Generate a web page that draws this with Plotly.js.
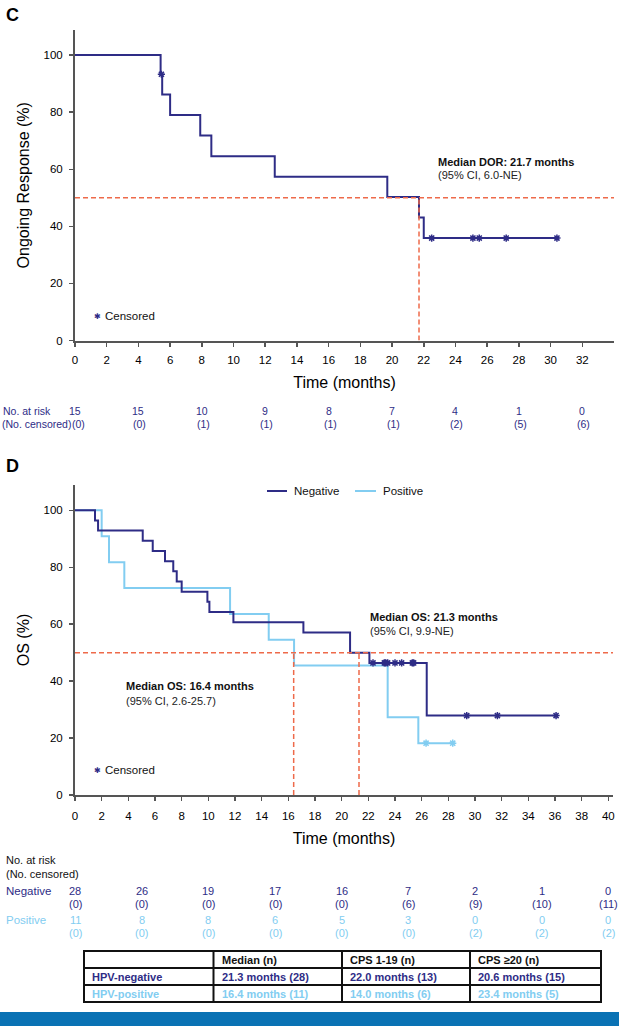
<!DOCTYPE html>
<html>
<head>
<meta charset="utf-8">
<script src="https://cdn.plot.ly/plotly-3.0.1.min.js"></script>
<style>html,body{margin:0;padding:0;background:#fff;}#chart{width:619px;height:1026px;}</style>
</head>
<body>
<div id="chart"></div>
<script>
// ---------- DATA ----------
// Panel C: duration of response
const dorTime = [0, 5.4, 5.5, 6.0, 7.9, 8.6, 12.6, 19.7, 21.7, 22.0, 30.4];
const dorSurv = [100, 93.3, 86.2, 79.0, 71.8, 64.6, 57.4, 50.3, 43.1, 35.9, 35.9];
const dorCensTime = [5.45, 22.5, 25.1, 25.5, 27.2, 30.4];
const dorCensSurv = [93.3, 35.9, 35.9, 35.9, 35.9, 35.9];
const dorMedian = 21.7;
const riskTimesC = [0, 4, 8, 12, 16, 20, 24, 28, 32];
const atRiskC = [15, 15, 10, 9, 8, 7, 4, 1, 0];
const censoredC = [0, 0, 1, 1, 1, 1, 2, 5, 6];

// Panel D: overall survival by HPV status
const negTime = [0, 1.5, 1.73, 5.08, 5.83, 6.75, 7.37, 7.63, 8.0, 9.93, 10.08, 11.88, 17.13, 20.63, 22.08, 26.38, 36.08];
const negSurv = [100, 96.4, 92.9, 89.3, 85.7, 82.1, 78.6, 75.0, 71.4, 67.9, 64.3, 60.7, 57.1, 50.0, 46.4, 27.9, 27.9];
const negCensTime = [22.35, 23.2, 23.3, 23.45, 24.0, 24.5, 25.3, 25.4, 29.38, 31.68, 36.08];
const negCensSurv = [46.4, 46.4, 46.4, 46.4, 46.4, 46.4, 46.4, 46.4, 27.9, 27.9, 27.9];
const posTime = [0, 2.0, 2.55, 3.7, 11.63, 14.53, 16.43, 23.45, 25.75, 28.33];
const posSurv = [100, 90.9, 81.8, 72.7, 63.6, 54.5, 45.5, 27.3, 18.2, 18.2];
const posCensTime = [26.33, 28.33];
const posCensSurv = [18.2, 18.2];
const medianNeg = 21.3;
const medianPos = 16.4;
const medianLevel = 50;
const riskTimesD = [0, 5, 10, 15, 20, 25, 30, 35, 40];
const atRiskNeg = [28, 26, 19, 17, 16, 7, 2, 1, 0];
const censNeg = [0, 0, 0, 0, 0, 6, 9, 10, 11];
const atRiskPos = [11, 8, 8, 6, 5, 3, 0, 0, 0];
const censPos = [0, 0, 0, 0, 0, 0, 2, 2, 2];

const xTicksC = [0,2,4,6,8,10,12,14,16,18,20,22,24,26,28,30,32];
const xTicksD = [0,2,4,6,8,10,12,14,16,18,20,22,24,26,28,30,32,34,36,38,40];
const yTicks = [0,20,40,60,80,100];

const tableHeader = ['', 'Median (n)', 'CPS 1-19 (n)', 'CPS \u226520 (n)'];
const tableNeg = ['HPV-negative', '21.3 months (28)', '22.0 months (13)', '20.6 months (15)'];
const tablePos = ['HPV-positive', '16.4 months (11)', '14.0 months (6)', '23.4 months (5)'];

// ---------- STYLE ----------
const W = 619, H = 1026;
const NAVY = '#2e2c86', LIGHT = '#82cdf1', ORANGE = '#ee6a4a', AXIS = '#555555';
const FONT = 'Liberation Sans, Arial, Helvetica, sans-serif';
const px = x => x / W;
const py = y => 1 - y / H;

function censMarker(color) {
  return {symbol: 'asterisk-open', size: 6, color: color, line: {color: color, width: 1.5}};
}

const traces = [
  {x: dorTime, y: dorSurv, xaxis: 'x', yaxis: 'y', mode: 'lines', line: {shape: 'hv', color: NAVY, width: 2}, hoverinfo: 'skip'},
  {x: dorCensTime, y: dorCensSurv, xaxis: 'x', yaxis: 'y', mode: 'markers', marker: censMarker(NAVY), hoverinfo: 'skip'},
  {x: posTime, y: posSurv, xaxis: 'x2', yaxis: 'y2', mode: 'lines', line: {shape: 'hv', color: LIGHT, width: 2}, hoverinfo: 'skip'},
  {x: negTime, y: negSurv, xaxis: 'x2', yaxis: 'y2', mode: 'lines', line: {shape: 'hv', color: NAVY, width: 2}, hoverinfo: 'skip'},
  {x: posCensTime, y: posCensSurv, xaxis: 'x2', yaxis: 'y2', mode: 'markers', marker: censMarker(LIGHT), hoverinfo: 'skip'},
  {x: negCensTime, y: negCensSurv, xaxis: 'x2', yaxis: 'y2', mode: 'markers', marker: censMarker(NAVY), hoverinfo: 'skip'}
];

const axisCommon = {
  showline: true, linecolor: AXIS, linewidth: 2, ticks: 'outside', ticklen: 4, tickwidth: 1.5,
  tickcolor: AXIS, showgrid: false, zeroline: false, fixedrange: true,
  tickfont: {family: FONT, size: 11.5, color: '#000'}
};

const shapes = [];
const dashLine = {color: ORANGE, width: 1.5, dash: '5px,3px'};
// Panel C median lines
shapes.push({type: 'line', xref: 'x', yref: 'y', x0: 0, x1: 34, y0: medianLevel, y1: medianLevel, line: dashLine});
shapes.push({type: 'line', xref: 'x', yref: 'y', x0: dorMedian, x1: dorMedian, y0: 0, y1: medianLevel, line: dashLine});
// Panel D median lines
shapes.push({type: 'line', xref: 'x2', yref: 'y2', x0: 0, x1: 40.35, y0: medianLevel, y1: medianLevel, line: dashLine});
shapes.push({type: 'line', xref: 'x2', yref: 'y2', x0: medianPos, x1: medianPos, y0: 0, y1: medianLevel, line: dashLine});
shapes.push({type: 'line', xref: 'x2', yref: 'y2', x0: medianNeg, x1: medianNeg, y0: 0, y1: medianLevel, line: dashLine});
// Legend lines (panel D)
shapes.push({type: 'line', xref: 'paper', yref: 'paper', x0: px(267), x1: px(287), y0: py(491), y1: py(491), line: {color: NAVY, width: 2}});
shapes.push({type: 'line', xref: 'paper', yref: 'paper', x0: px(355), x1: px(376), y0: py(491), y1: py(491), line: {color: LIGHT, width: 2}});
// Summary table grid
const tLeft = 84, tRight = 601, tTop = 951, tBot = 1002;
const colX = [84, 213.5, 342, 470];
const rowLines = [968, 985];
shapes.push({type: 'rect', xref: 'paper', yref: 'paper', x0: px(tLeft), x1: px(tRight), y0: py(tBot), y1: py(tTop), line: {color: '#111', width: 2}});
colX.slice(1).forEach(cx => shapes.push({type: 'line', xref: 'paper', yref: 'paper', x0: px(cx), x1: px(cx), y0: py(tBot), y1: py(tTop), line: {color: '#111', width: 2}}));
rowLines.forEach(ry => shapes.push({type: 'line', xref: 'paper', yref: 'paper', x0: px(tLeft), x1: px(tRight), y0: py(ry), y1: py(ry), line: {color: '#111', width: 2}}));
// Bottom blue band
shapes.push({type: 'rect', xref: 'paper', yref: 'paper', x0: 0, x1: 1, y0: 0, y1: py(1012), fillcolor: '#0a72b4', line: {width: 0}});

const ann = [];
function txt(text, x, y, opts) {
  ann.push(Object.assign({text: text, x: x, y: y, xref: 'paper', yref: 'paper', showarrow: false,
    xanchor: 'left', yanchor: 'middle', font: {family: FONT, size: 11, color: '#000'}}, opts || {}));
}
// panel letters
txt('<b>C</b>', px(4), py(15), {font: {family: FONT, size: 18, color: '#000'}});
txt('<b>D</b>', px(4), py(466), {font: {family: FONT, size: 18, color: '#000'}});
// Panel C median text
txt('<b>Median DOR: 21.7 months</b>', px(436), py(161.5), {font: {family: FONT, size: 11, color: '#111'}});
txt('(95% CI, 6.0-NE)', px(436), py(175.5), {font: {family: FONT, size: 11, color: '#222'}});
// Censored legends
txt('\u2731', px(92), py(316), {font: {family: 'DejaVu Sans', size: 8, color: NAVY}});
txt('Censored', px(103), py(316), {font: {family: FONT, size: 11.5, color: '#111'}});
txt('\u2731', px(92), py(770), {font: {family: 'DejaVu Sans', size: 8, color: NAVY}});
txt('Censored', px(103), py(770), {font: {family: FONT, size: 11.5, color: '#111'}});
// Panel D median text
txt('<b>Median OS: 21.3 months</b>', px(368), py(616.5), {font: {family: FONT, size: 11, color: '#111'}});
txt('(95% CI, 9.9-NE)', px(368), py(631), {font: {family: FONT, size: 11, color: '#222'}});
txt('<b>Median OS: 16.4 months</b>', px(124), py(686), {font: {family: FONT, size: 11, color: '#111'}});
txt('(95% CI, 2.6-25.7)', px(124), py(701), {font: {family: FONT, size: 11, color: '#222'}});
// Legend text
txt('Negative', px(292), py(491), {font: {family: FONT, size: 11.5, color: '#111'}});
txt('Positive', px(381), py(491), {font: {family: FONT, size: 11.5, color: '#111'}});

// Risk table panel C
txt('No. at risk', px(1), py(410.5), {font: {family: FONT, size: 10.5, color: NAVY}});
txt('(No. censored)', px(0), py(424), {font: {family: FONT, size: 10.5, color: NAVY}});
riskTimesC.forEach((t, i) => {
  ann.push({text: String(atRiskC[i]), x: t, xref: 'x', y: py(410.5), yref: 'paper', showarrow: false,
    xanchor: 'center', yanchor: 'middle', font: {family: FONT, size: 10.5, color: NAVY}});
  ann.push({text: '(' + censoredC[i] + ')', x: t, xref: 'x', y: py(424), yref: 'paper', showarrow: false,
    xanchor: 'left', yanchor: 'middle', xshift: t === 0 ? -5 : -7,
    font: {family: FONT, size: 10.5, color: NAVY}});
});
// Risk table panel D
txt('No. at risk', px(4), py(860), {font: {family: FONT, size: 11, color: '#111'}});
txt('(No. censored)', px(4), py(873.5), {font: {family: FONT, size: 11, color: '#111'}});
txt('Negative', px(4), py(890.5), {font: {family: FONT, size: 11.5, color: NAVY}});
txt('Positive', px(4), py(919.5), {font: {family: FONT, size: 11.5, color: LIGHT}});
riskTimesD.forEach((t, i) => {
  const rows = [[String(atRiskNeg[i]), 890.5, NAVY], ['(' + censNeg[i] + ')', 904, NAVY],
                [String(atRiskPos[i]), 919.5, LIGHT], ['(' + censPos[i] + ')', 933, LIGHT]];
  rows.forEach(r => ann.push({text: r[0], x: t, xref: 'x2', y: py(r[1]), yref: 'paper', showarrow: false,
    xanchor: 'center', yanchor: 'middle', font: {family: FONT, size: 11, color: r[2]}}));
});
// Summary table text
const rowY = [959.5, 976.5, 993.5];
const rowColor = ['#111', NAVY, LIGHT];
[tableHeader, tableNeg, tablePos].forEach((row, r) => {
  row.forEach((cell, c) => {
    if (!cell) return;
    txt('<b>' + cell + '</b>', px(colX[c] + 6), py(rowY[r]), {font: {family: FONT, size: 11, color: rowColor[r]}});
  });
});

const layout = {
  width: W, height: H, autosize: false,
  margin: {l: 0, r: 0, t: 0, b: 0},
  paper_bgcolor: '#fff', plot_bgcolor: '#fff',
  showlegend: false,
  xaxis: Object.assign({}, axisCommon, {domain: [px(75), px(614)], range: [0, 34], anchor: 'y',
    tickvals: xTicksC, ticklabelstandoff: 4,
    title: {text: 'Time (months)', font: {family: FONT, size: 16, color: '#000'}, standoff: 12}}),
  yaxis: Object.assign({}, axisCommon, {domain: [py(340.5), py(30)], range: [0, 108.8], anchor: 'x',
    tickvals: yTicks, ticklabelstandoff: 4,
    title: {text: 'Ongoing Response (%)', font: {family: FONT, size: 16, color: '#000'}, standoff: 10}}),
  xaxis2: Object.assign({}, axisCommon, {domain: [px(75), px(613)], range: [0, 40.35], anchor: 'y2',
    tickvals: xTicksD, ticklabelstandoff: 5,
    title: {text: 'Time (months)', font: {family: FONT, size: 16, color: '#000'}, standoff: 12}}),
  yaxis2: Object.assign({}, axisCommon, {domain: [py(795), py(485)], range: [0, 108.9], anchor: 'x2',
    tickvals: yTicks, ticklabelstandoff: 4,
    title: {text: 'OS (%)', font: {family: FONT, size: 16, color: '#000'}, standoff: 10}}),
  shapes: shapes,
  annotations: ann
};

Plotly.newPlot('chart', traces, layout, {displayModeBar: false, staticPlot: true});
</script>
</body>
</html>
